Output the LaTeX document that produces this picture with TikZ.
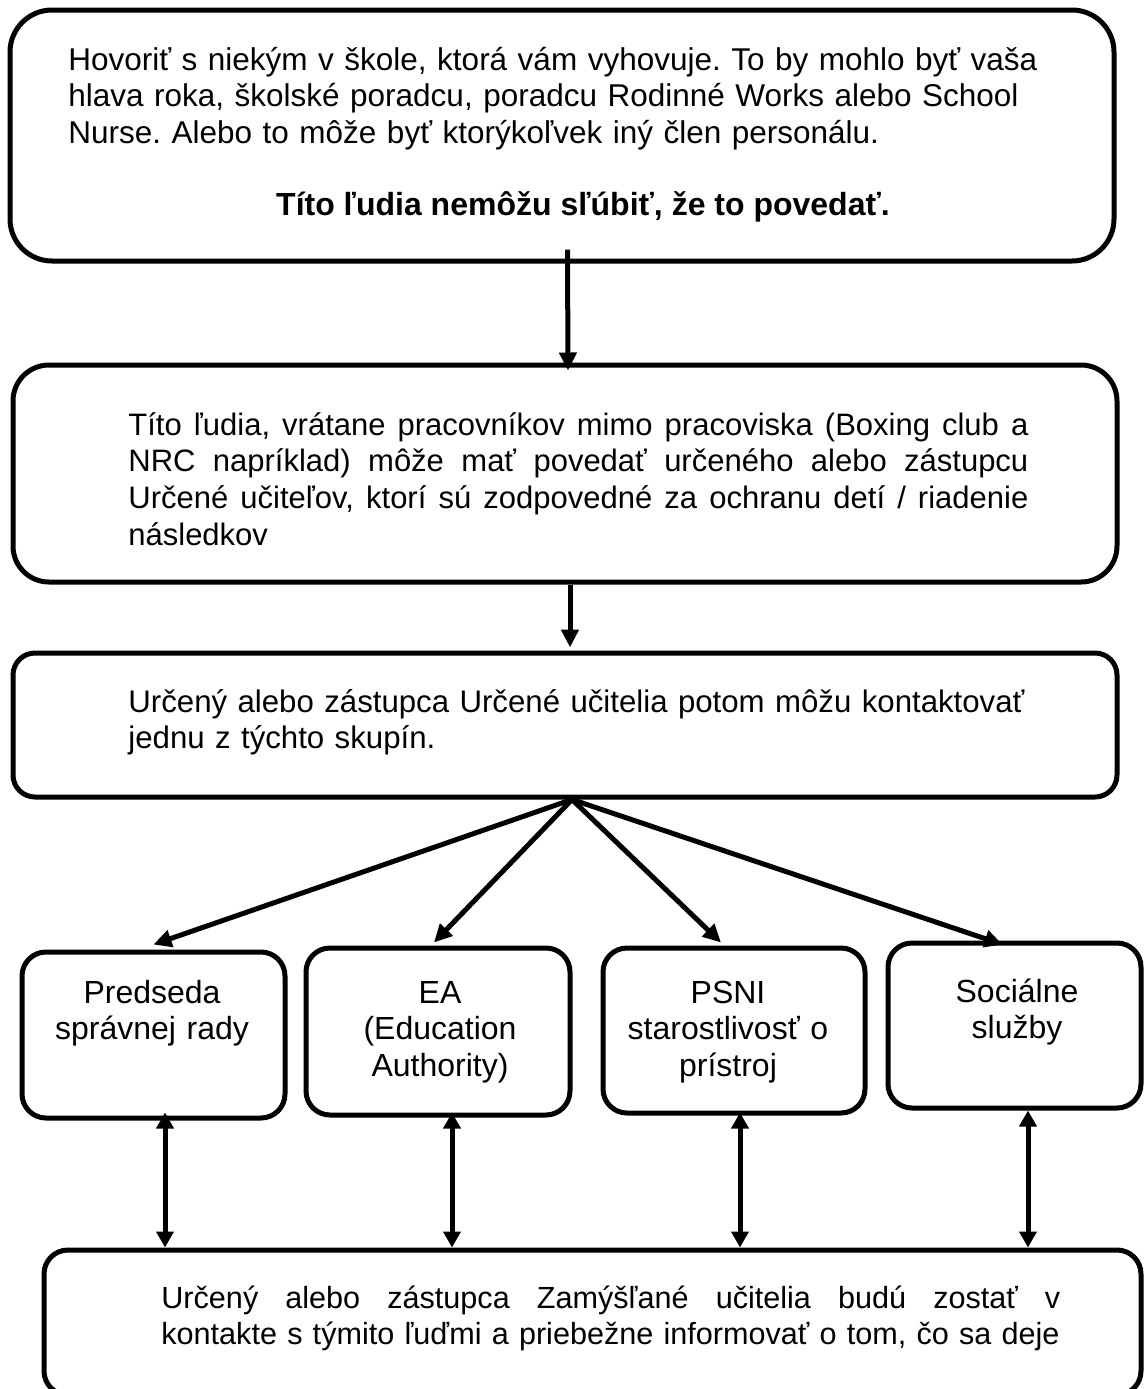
\documentclass[tikz,border=0pt]{standalone}
\usepackage{fontspec}
\setmainfont{Liberation Sans}
\usetikzlibrary{arrows.meta,fit}
\frenchspacing
% one justified line of a given width
\newcommand\fullline[2]{\makebox[#1][s]{\spaceskip=0pt\xspaceskip=0pt #2}}

\begin{document}
\begin{tikzpicture}[x=0.5pt,y=-0.5pt,
        box/.style={draw,line width=2.5pt,inner sep=0pt},
        txt/.style={inner sep=0pt,font=\fontsize{#1}{18.4pt}\selectfont},
        txt/.default=16pt,
        flow/.style={line width=2.5pt,-{Triangle[length=9pt,width=8.5pt]}},
        both/.style={line width=2.5pt,{Triangle[length=8pt,width=8.5pt]}-{Triangle[length=8pt,width=8.5pt]}}]
    \clip (0,0) rectangle (1145,1389);

    % top box
    \node[box,rounded corners=21pt,fit={(10,10) (1114,261)}] (talk) {};
    \node[txt=15.75pt,anchor=base west,text width=520pt] (talktext) at (68,70)
        {Hovoriť s niekým v škole, ktorá vám vyhovuje. To by mohlo byť vaša\\
         hlava roka, školské poradcu, poradcu Rodinné Works alebo School\\
         Nurse. Alebo to môže byť ktorýkoľvek iný člen personálu.};
    \node[txt,anchor=base,font=\fontsize{16pt}{18.4pt}\selectfont\bfseries] (warn) at (583,215)
        {Títo ľudia nemôžu sľúbiť, že to povedať.};

    % second box
    \node[box,rounded corners=18pt,fit={(13,365) (1117,582)}] (people) {};
    \node[txt=15.5pt,anchor=base west,text width=460pt] (peopletext) at (128,435)
        {\fullline{450pt}{Títo ľudia, vrátane pracovníkov mimo pracoviska (Boxing club a}\\
         \fullline{450pt}{NRC napríklad) môže mať povedať určeného alebo zástupcu}\\
         \fullline{450pt}{Určené učiteľov, ktorí sú zodpovedné za ochranu detí / riadenie}\\
         následkov};

    % third box
    \node[box,rounded corners=11pt,fit={(13,653) (1117,797)}] (decides) {};
    \node[txt=15.6pt,anchor=base west,text width=470pt] (decidestext) at (128,712)
        {Určený alebo zástupca Určené učitelia potom môžu kontaktovať\\
         jednu z týchto skupín.};

    % the four groups
    \node[box,rounded corners=12pt,fit={(22,952) (285,1118)}] (chair) {};
    \node[box,rounded corners=12pt,fit={(306,948) (570,1115)}] (ea) {};
    \node[box,rounded corners=12pt,fit={(603,948) (865,1113)}] (psni) {};
    \node[box,rounded corners=12pt,fit={(888,943) (1141,1108)}] (social) {};

    \node[txt,anchor=base,text width=125pt,align=center] (chairtext) at (152,1003)
        {Predseda\\správnej rady};
    \node[txt,anchor=base,text width=125pt,align=center] (eatext) at (440,1003)
        {EA\\(Education\\Authority)};
    \node[txt,anchor=base,text width=125pt,align=center] (psnitext) at (728,1003)
        {PSNI\\starostlivosť o\\prístroj};
    \node[txt,anchor=base,text width=125pt,align=center] (socialtext) at (1017,1002)
        {Sociálne\\služby};

    % bottom box
    \node[box,rounded corners=12pt,fit={(44,1250) (1141,1395)}] (keep) {};
    \node[txt=15.3pt,anchor=base west,text width=460pt] (keeptext) at (161,1308)
        {\fullline{449.5pt}{Určený alebo zástupca Zamýšľané učitelia budú zostať v}\\
         kontakte s týmito ľuďmi a priebežne informovať o tom, čo sa deje};

    % arrows down
    \draw[flow] ([shift={(5.5,-14)}]talk.south) -- ([shift={(3,8)}]people.north);
    \draw[flow] ([shift={(5,0)}]people.south) -- ([shift={(5,-3)}]decides.north);

    \coordinate (hub) at ([shift={(7,0)}]decides.south);
    \draw[flow] (hub) -- ([shift={(0,-5)}]chair.north);
    \draw[flow] (hub) -- ([shift={(-4,-3)}]ea.north);
    \draw[flow] (hub) -- ([shift={(-13,-3)}]psni.north);
    \draw[flow] (hub) -- ([shift={(-12,4)}]social.north);

    % both ways to the bottom box
    \foreach \n/\dx/\dy in {chair/11.5/-8, ea/14/-5, psni/6/-3, social/13.5/0}
        \draw[both] ([shift={(\dx,\dy)}]\n.south) coordinate (up\n) -- (up\n |- keep.north);
\end{tikzpicture}
\end{document}
